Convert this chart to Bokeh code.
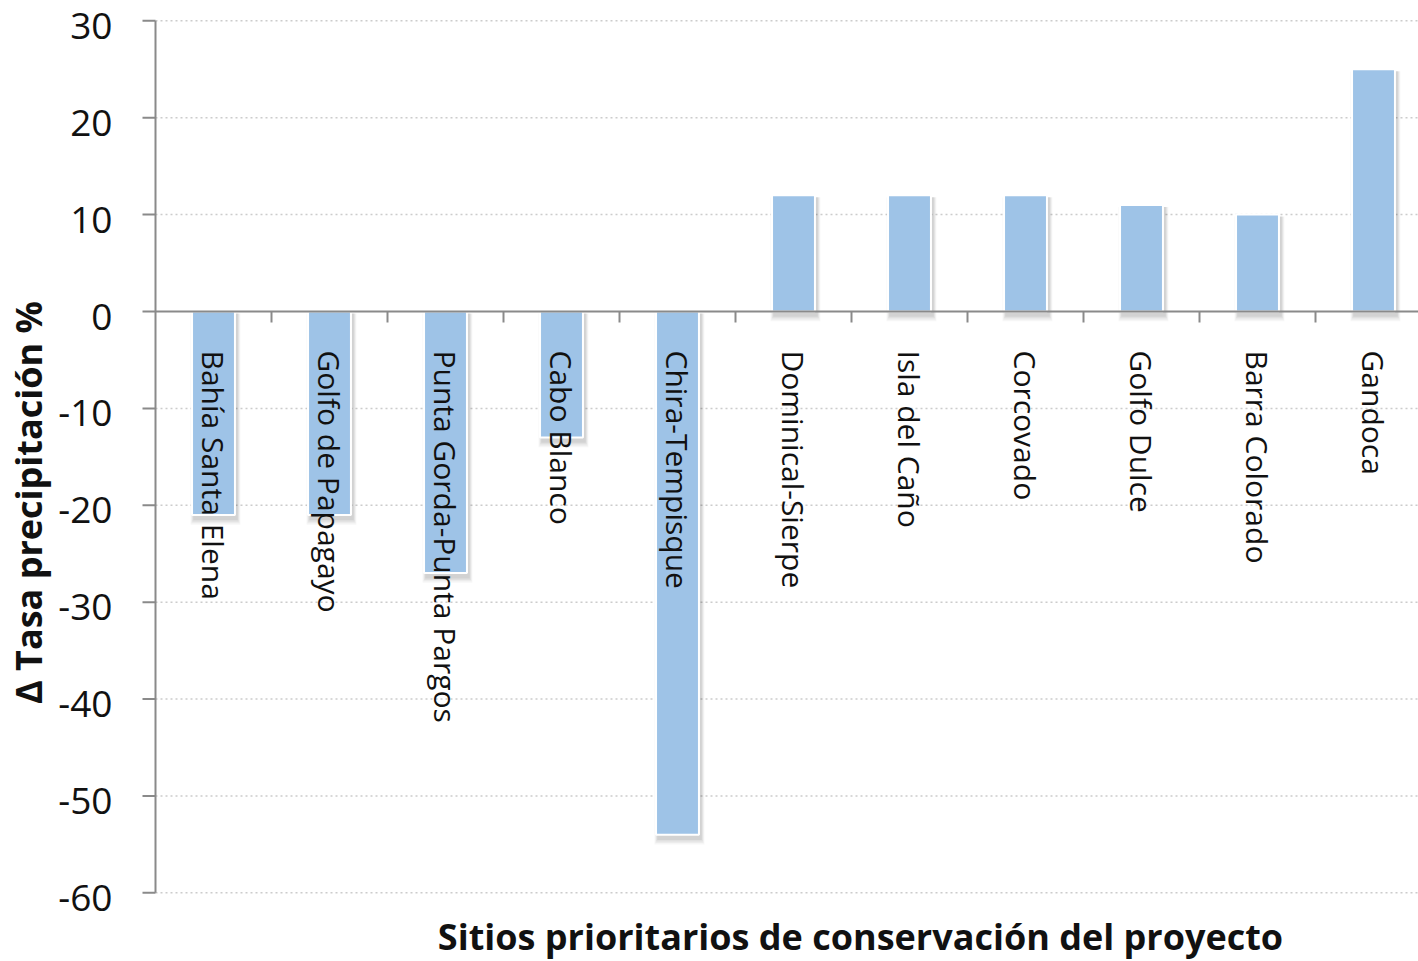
import math
from bokeh.plotting import figure
from bokeh.models import Range1d, ColumnDataSource
from bokeh.core.properties import value
from bokeh.embed import file_html
from bokeh.resources import INLINE

categories = ["Bahía Santa Elena", "Golfo de Papagayo", "Punta Gorda-Punta Pargos",
              "Cabo Blanco", "Chira-Tempisque", "Dominical-Sierpe", "Isla del Caño",
              "Corcovado", "Golfo Dulce", "Barra Colorado", "Gandoca"]
values = [-21, -21, -27, -13, -54, 12, 12, 12, 11, 10, 25]
y_ticks = [-60, -50, -40, -30, -20, -10, 0, 10, 20, 30]
y_tick_labels = [str(t) for t in y_ticks]
y_title = "Δ Tasa precipitación %"
x_title = "Sitios prioritarios de conservación del proyecto"

FONT = "Open Sans"
AXIS_GREY = "#8a8a8a"
BAR = "#9EC3E7"
TXT = "#111111"

W, H = 1418, 961
PX_X = 116.0            # pixels per category
PX_Y = 872.0 / 90.0     # pixels per percent unit
X0_PX, Y0_PX = 155.0, 311.0  # pixel position of x=0, y=0

n = len(categories)
xs = [i + 0.5 for i in range(n)]
tops = [max(v, 0) for v in values]
bottoms = [min(v, 0) for v in values]
ymin, ymax = min(y_ticks), max(y_ticks)

def dx(px):
    return px / PX_X

def dy(px):
    return px / PX_Y

src = ColumnDataSource(dict(x=xs, top=tops, bottom=bottoms, cat=categories))

p = figure(width=W, height=H, output_backend="svg", toolbar_location=None,
           x_range=Range1d(-dx(X0_PX), dx(W - X0_PX)),
           y_range=Range1d(-dy(H - Y0_PX), dy(Y0_PX)),
           x_axis_location=None, y_axis_location=None,
           min_border=0, min_border_left=0, min_border_right=0,
           min_border_top=0, min_border_bottom=0)
p.outline_line_color = None
p.background_fill_color = "white"
p.border_fill_color = "white"
p.xgrid.visible = False
p.ygrid.visible = False

# dotted horizontal grid
grid_ticks = [t for t in y_ticks if t != 0]
p.segment(x0=[0] * len(grid_ticks), y0=grid_ticks, x1=[n] * len(grid_ticks), y1=grid_ticks,
          line_color="#cccccc", line_dash="2 3", line_width=1.5)

# y axis line, ticks, labels
p.line(x=[0, 0], y=[ymin, ymax], line_color=AXIS_GREY, line_width=2)
p.segment(x0=[-dx(13)] * len(y_ticks), y0=y_ticks, x1=[0] * len(y_ticks), y1=y_ticks,
          line_color=AXIS_GREY, line_width=2)
p.text(x=-dx(43), y=[t - dy(5) for t in y_ticks], text=y_tick_labels,
       text_align="right", text_baseline="middle",
       text_font=value(FONT), text_font_size="37px", text_color=TXT)

# soft bar shadows (layered)
for grow, down, alpha in [(0.06, 1.0, 0.035), (0.045, 0.85, 0.04), (0.03, 0.7, 0.05), (0.015, 0.55, 0.06)]:
    p.vbar(x=[x + dx(2) for x in xs], width=0.37 + grow,
           top=[t - dy(2) for t in tops], bottom=[b - down for b in bottoms],
           fill_color="black", fill_alpha=alpha, line_color=None)
# bars
p.vbar(x="x", width=0.37, top="top", bottom="bottom", source=src,
       fill_color=BAR, line_color="white", line_width=2)

# zero axis line and category ticks
p.line(x=[0, n], y=[0, 0], line_color=AXIS_GREY, line_width=2)
p.segment(x0=list(range(1, n + 1)), y0=[0] * n, x1=list(range(1, n + 1)), y1=[-dy(11)] * n,
          line_color=AXIS_GREY, line_width=2)

# category labels (rotated)
p.text(x="x", y=-dy(39), text="cat", source=src, angle=-math.pi / 2,
       text_align="left", text_baseline="middle",
       text_font=value(FONT), text_font_size="30px", text_color=TXT)

# axis titles
p.text(x=[dx(860 - X0_PX)], y=[-dy(936 - Y0_PX)], text=[x_title],
       text_align="center", text_baseline="middle",
       text_font=value(FONT), text_font_size="36px", text_font_style="bold", text_color=TXT)
p.text(x=[-dx(X0_PX - 28)], y=[-dy(502 - Y0_PX)], text=[y_title], angle=math.pi / 2,
       text_align="center", text_baseline="middle",
       text_font=value(FONT), text_font_size="36px", text_font_style="bold", text_color=TXT)

open("out.html", "w").write(file_html(p, INLINE))
